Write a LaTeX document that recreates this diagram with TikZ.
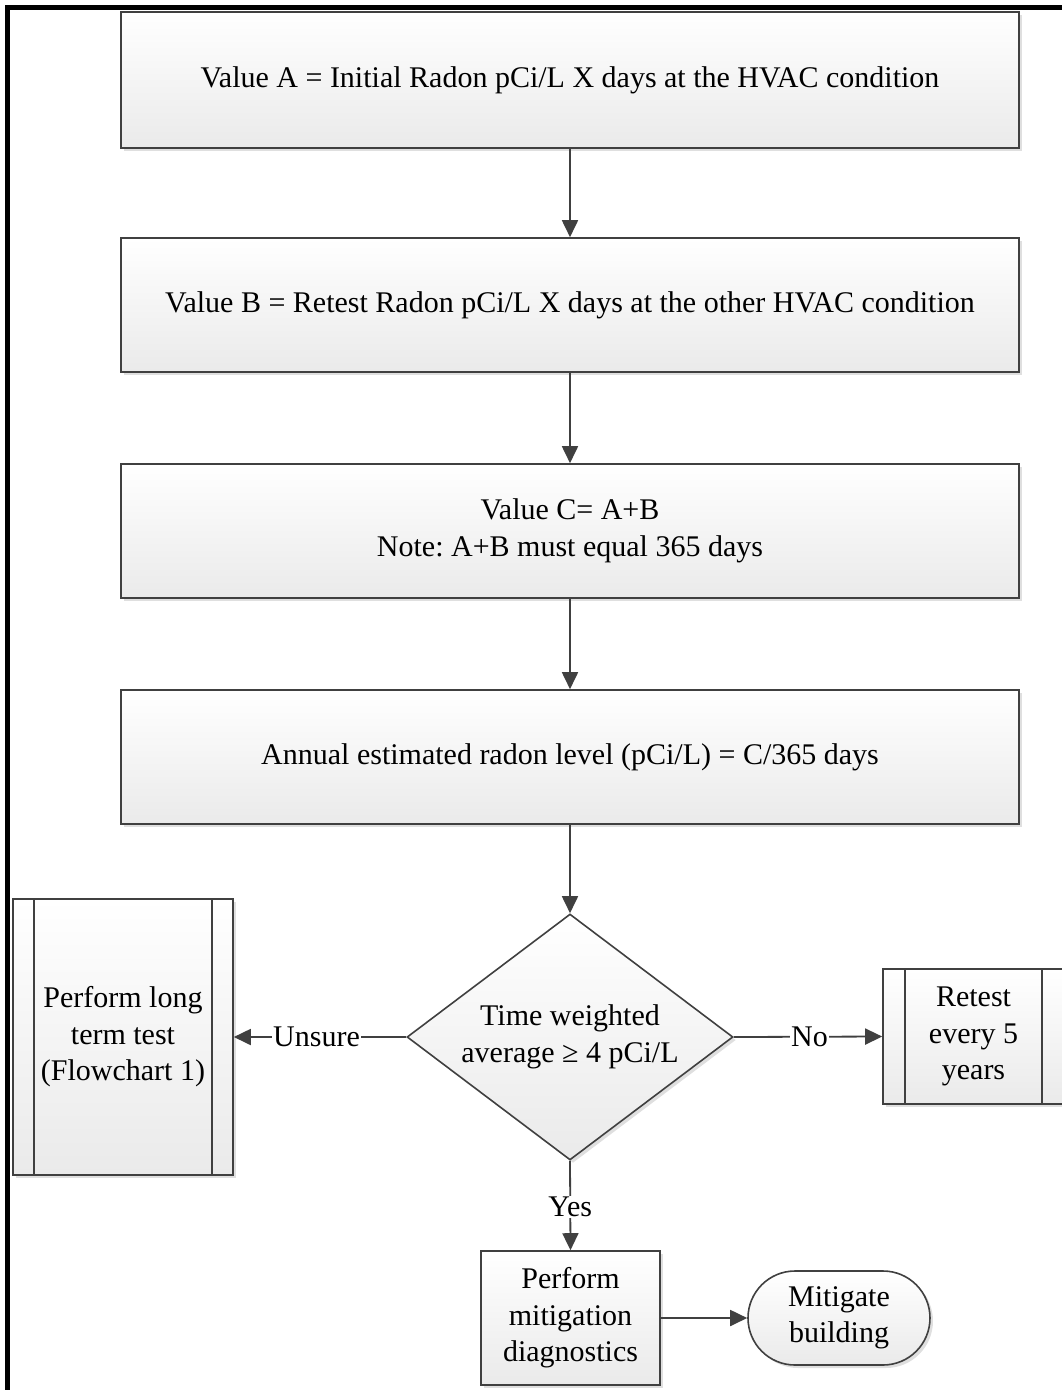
\documentclass[tikz,border=0pt]{standalone}
\usepackage{fontspec}
\setmainfont{Liberation Serif}
\frenchspacing
\usetikzlibrary{arrows.meta,shapes.geometric,shadows}

\definecolor{edge}{HTML}{404040}
\definecolor{fillbot}{HTML}{EAEAEA}

\tikzset{
  base/.style={draw=edge, line width=1.6pt, top color=white, bottom color=fillbot,
    drop shadow={shadow xshift=3pt, shadow yshift=-3pt, opacity=0.25, fill=gray},
    font=\fontsize{30}{36.5}\selectfont, align=center, inner sep=0pt},
  link/.style={draw=edge, line width=1.8pt, -{Triangle[length=17pt,width=16pt]}},
  lbl/.style={fill=white, inner sep=1pt, font=\fontsize{30}{36}\selectfont},
  sideline/.style={draw=edge, line width=1.6pt},
}

\begin{document}
\begin{tikzpicture}[x=1pt, y=-1pt]
  \useasboundingbox (0,0) rectangle (1061,1390);

  % frame along the top and left edges
  \draw[line width=5pt, line cap=rect] (7.5,1395) -- (7.5,7.5) -- (1070,7.5);

  % process steps
  \node[base, minimum width=898pt, minimum height=136pt] (a) at (570,80)
    {Value A = Initial Radon pCi/L X days at the HVAC condition};
  \node[base, minimum width=898pt, minimum height=134pt] (b) at (570,305)
    {Value B = Retest Radon pCi/L X days at the other HVAC condition};
  \node[base, minimum width=898pt, minimum height=134pt] (c) at (570,531)
    {Value C= A+B\\Note: A+B must equal 365 days};
  \node[base, minimum width=898pt, minimum height=134pt] (d) at (570,757)
    {Annual estimated radon level (pCi/L) = C/365 days};

  % decision
  \node[base, diamond, minimum width=326pt, minimum height=246pt] (q) at (570,1037) {};
  \node[font=\fontsize{30}{36.5}\selectfont, align=center] (qt) at (q.center)
    {Time weighted\\average ≥ 4 pCi/L};

  % predefined-process boxes
  \node[base, minimum width=220pt, minimum height=276pt] (lt) at (123,1037)
    {Perform long\\term test\\(Flowchart 1)};
  \draw[sideline] ([xshift=22pt]lt.north west) -- ([xshift=22pt]lt.south west);
  \draw[sideline] ([xshift=-22pt]lt.north east) -- ([xshift=-22pt]lt.south east);

  \node[base, minimum width=181pt, minimum height=135pt] (rt) at (973.5,1036.5)
    {Retest\\every 5\\years};
  \draw[sideline] ([xshift=23pt]rt.north west) -- ([xshift=23pt]rt.south west);
  \draw[sideline] ([xshift=-23pt]rt.north east) -- ([xshift=-23pt]rt.south east);

  % mitigation
  \node[base, minimum width=179pt, minimum height=134pt] (m) at (570.5,1318)
    {Perform\\mitigation\\diagnostics};
  \node[base, rounded corners=47pt, minimum width=182pt, minimum height=94pt] (t) at (839,1318)
    {Mitigate\\building};

  % connectors
  \draw[link] (a) -- (b);
  \draw[link] (b) -- (c);
  \draw[link] (c) -- (d);
  \draw[link] (d) -- (q);
  \draw[link] (q.west) -- node[lbl, pos=0.52] (un) {Unsure} (lt.east);
  \draw[link] (q.east) -- node[lbl, pos=0.51] (no) {No} (rt.west);
  \draw[link] (q.south) -- node[lbl, pos=0.52] (ys) {Yes} (m.north);
  \draw[link] (m) -- (t);
\end{tikzpicture}
\end{document}
